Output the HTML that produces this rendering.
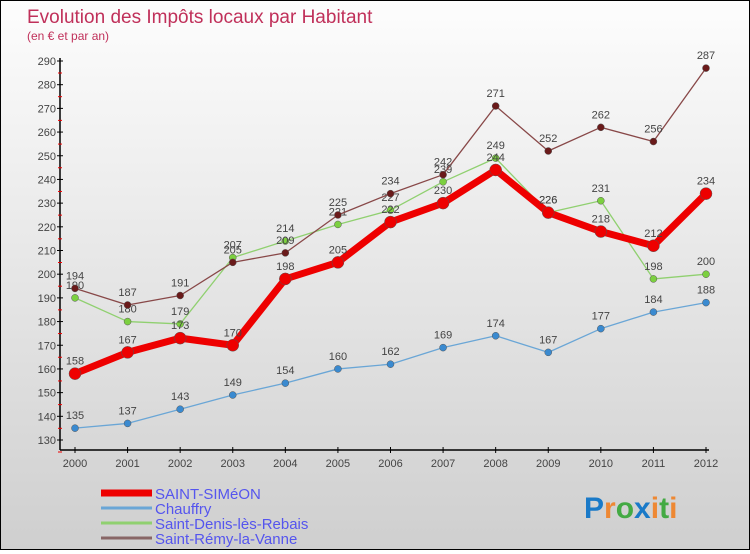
<!DOCTYPE html>
<html><head><meta charset="utf-8"><style>
body{margin:0;width:750px;height:550px;overflow:hidden}
#wrap{position:relative;width:748px;height:548px;border:1px solid #000;background:linear-gradient(#fdfdfd,#cfcfcf)}
text{font-family:"Liberation Sans",sans-serif}
</style></head><body>
<div id="wrap">
<svg id="chart" width="748" height="548">
<text x="26" y="22" font-size="19" fill="#c0305a">Evolution des Impôts locaux par Habitant</text>
<text x="26" y="39" font-size="12" fill="#c0305a">(en € et par an)</text>
<g id="axes"></g><g id="series"></g><g id="legend"></g>
<text x="583" y="517" font-size="30" font-weight="bold"><tspan fill="#1a7ac8">P</tspan><tspan fill="#e83">r</tspan><tspan fill="#4a4">o</tspan><tspan fill="#1a7ac8">x</tspan><tspan fill="#e83">i</tspan><tspan fill="#4a4">t</tspan><tspan fill="#e83">i</tspan></text>
</svg></div>
<script>
const years=[2000,2001,2002,2003,2004,2005,2006,2007,2008,2009,2010,2011,2012];
const yTicks=[130,140,150,160,170,180,190,200,210,220,230,240,250,260,270,280,290];
const stSimeon=[158,167,173,170,198,205,222,230,244,226,218,212,234];
const chauffry=[135,137,143,149,154,160,162,169,174,167,177,184,188];
const stDenis=[190,180,179,207,214,221,227,239,249,226,231,198,200];
const stRemy=[194,187,191,205,209,225,234,242,271,252,262,256,287];
const NS="http://www.w3.org/2000/svg";
const xs=i=>74+i*(705-74)/12;
const ys=v=>439-(v-130)*(379/160);
function mk(t,a,p){const e=document.createElementNS(NS,t);for(const k in a)e.setAttribute(k,a[k]);p.appendChild(e);return e;}
const ax=document.getElementById('axes');
let l=mk('line',{x1:59,y1:57,x2:59,y2:449,stroke:'#000','stroke-width':1.5},ax);


l=mk('line',{x1:59,y1:449,x2:708,y2:449,stroke:'#000','stroke-width':1.5},ax);


yTicks.forEach(v=>{const y=ys(v);
mk('line',{x1:56,y1:y,x2:62,y2:y,stroke:'#000'},ax);
mk('line',{x1:57,y1:y+12,x2:61,y2:y+12,stroke:'#e00'},ax);
const t=mk('text',{x:55,y:y+4,'font-size':11,fill:'#444','text-anchor':'end'},ax);t.textContent=v;

});
years.forEach((yr,i)=>{const x=xs(i);
mk('line',{x1:x,y1:446,x2:x,y2:452,stroke:'#000'},ax);
const t=mk('text',{x:x,y:466,'font-size':11,fill:'#444','text-anchor':'middle'},ax);t.textContent=yr;

});
const sg=document.getElementById('series');
function draw(vals,col,dot,w,r,name){const g=mk('g',{},sg);


mk('polyline',{points:vals.map((v,i)=>xs(i)+','+ys(v)).join(' '),fill:'none',stroke:col,'stroke-width':w,'stroke-linejoin':'round'},g);
vals.forEach((v,i)=>{const c=mk('circle',{cx:xs(i),cy:ys(v),r:r,fill:dot,stroke:'#555','stroke-width':0.5},g);


const t=mk('text',{x:xs(i),y:ys(v)-9,'font-size':11,fill:'#444','text-anchor':'middle'},g);t.textContent=v;});}
draw(chauffry,'#6aa6d6','#3a8ad0',1.3,3.5,'chauffry-series');
draw(stDenis,'#90d070','#7cd040',1.3,3.5,'saint-denis-series');
draw(stRemy,'#884848','#6a1a1a',1.3,3.5,'saint-remy-series');
draw(stSimeon,'#ee0000','#ee0000',7,6,'saint-simeon-series');
const lg=document.getElementById('legend');
const items=[['SAINT-SIMéON','#ee0000',7],['Chauffry','#6aa6d6',3],['Saint-Denis-lès-Rebais','#90d070',3],['Saint-Rémy-la-Vanne','#886666',3]];
items.forEach((it,i)=>{const y=492+i*15;
const g=mk('g',{},lg);


mk('line',{x1:100,y1:y,x2:151,y2:y,stroke:it[1],'stroke-width':it[2]},g);
const t=mk('text',{x:154,y:y+6,'font-size':15,fill:'#5555ee'},g);t.textContent=it[0];});
</script>
</body></html>
